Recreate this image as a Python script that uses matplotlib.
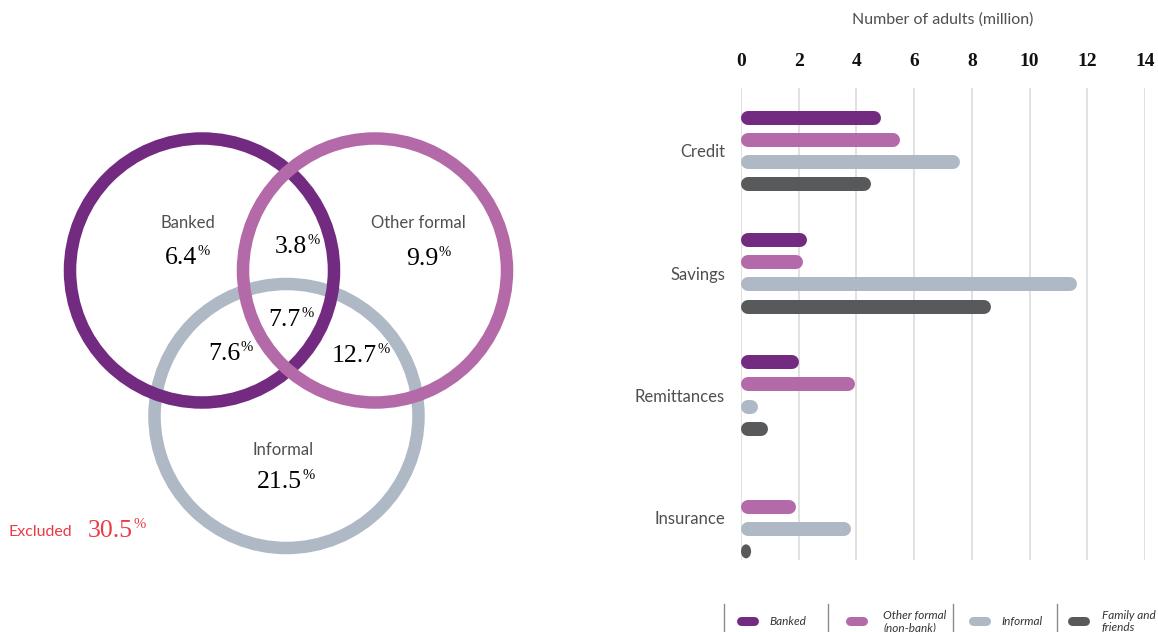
import matplotlib
matplotlib.use("Agg")
import matplotlib.pyplot as plt
from matplotlib.patches import Circle, Ellipse
from matplotlib.lines import Line2D
import numpy as np

# ---------------- data ----------------
categories = ["Credit", "Savings", "Remittances", "Insurance"]
series = ["Banked", "Other formal\n(non-bank)", "Informal", "Family and\nfriends"]
banked = [4.85, 2.3, 2.0, np.nan]
other_formal = [5.5, 2.15, 3.95, 1.9]
informal = [7.6, 11.65, 0.6, 3.8]
family = [4.5, 8.65, 0.95, 0.35]
x_ticks = [0, 2, 4, 6, 8, 10, 12, 14]
x_title = "Number of adults (million)"

venn_labels = ["Banked", "Other formal", "Informal"]
venn_only = ["6.4", "9.9", "21.5"]
venn_pairs = {"banked_other": "3.8", "banked_informal": "7.6", "other_informal": "12.7"}
venn_all = "7.7"
excluded_label = "Excluded"
excluded_value = "30.5"

colors = ["#732a81", "#b469a8", "#afb9c5", "#58595b"]
RED = "#ec3a45"
LABEL = "#4f4f4f"

W, H = 1158, 632
fig = plt.figure(figsize=(W / 100, H / 100), dpi=100)

SANS = ["Lato", "DejaVu Sans"]
SERIF = ["Liberation Serif", "DejaVu Serif"]

# ---------------- Venn (pixel coordinate axes) ----------------
ax0 = fig.add_axes([0, 0, 1, 1])
ax0.set_xlim(0, W)
ax0.set_ylim(H, 0)
ax0.axis("off")

R = 132
ring_lw = 12.5 * 0.72
ax0.add_patch(Circle((286.5, 416), R, fill=False, ec=colors[2], lw=ring_lw, zorder=1))
ax0.add_patch(Circle((202, 270.5), R, fill=False, ec=colors[0], lw=ring_lw, zorder=2))
ax0.add_patch(Circle((375, 270.5), R, fill=False, ec=colors[1], lw=ring_lw, zorder=3))


def pct(xr, yb, val, color="black", size=18.5):
    ax0.text(xr, yb, val, ha="right", va="baseline", fontsize=size,
             family=SERIF, color=color, zorder=5)
    ax0.text(xr + 0.5, yb - 9, "%", ha="left", va="baseline", fontsize=10.5,
             family=SERIF, color=color, zorder=5)


def lab(xc, yb, s, color=LABEL, size=12):
    ax0.text(xc, yb, s, ha="center", va="baseline", fontsize=size,
             family=SANS, color=color, zorder=5)


lab(187.5, 228, venn_labels[0])
lab(418.5, 228, venn_labels[1])
lab(283.5, 455, venn_labels[2])
pct(197, 264, venn_only[0])
pct(438, 265, venn_only[1])
pct(302, 488, venn_only[2])
pct(307, 253, venn_pairs["banked_other"])
pct(240, 360, venn_pairs["banked_informal"])
pct(377, 362, venn_pairs["other_informal"])
pct(301, 326, venn_all)

ax0.text(9, 536, excluded_label, ha="left", va="baseline", fontsize=11.5,
         family=SANS, color=RED)
pct(133, 537, excluded_value, color=RED)

# ---------------- bar chart ----------------
left_px, right_px, top_px, bot_px = 741, 1145, 88, 560
ax = fig.add_axes([left_px / W, 1 - bot_px / H, (right_px - left_px) / W,
                   (bot_px - top_px) / H])
px_per_x = (right_px - left_px) / 14.0
group_px = 122.3
ax.set_xlim(0, 14)
ax.set_ylim((bot_px - 151) / group_px, -(151 - top_px) / group_px)
px_per_y = group_px

bar_px = 14
r = (bar_px / 2) / px_per_x
offset = 22.3 / group_px
all_series = [banked, other_formal, informal, family]
for j, vals in enumerate(all_series):
    for i, v in enumerate(vals):
        if v is None or np.isnan(v):
            continue
        y = i + (j - 1.5) * offset
        if v > 2 * r:
            ax.add_line(Line2D([r, v - r], [y, y], lw=bar_px * 0.72,
                               color=colors[j], solid_capstyle="round", zorder=3))
        else:
            ax.add_patch(Ellipse((v / 2, y), v, bar_px / px_per_y,
                                 color=colors[j], zorder=3, lw=0))

for t in x_ticks:
    ax.axvline(t, color="#d8d8d8", lw=1.1, zorder=1)

ax.xaxis.tick_top()
ax.set_xticks(x_ticks)
ax.set_xticklabels([str(t) for t in x_ticks], family=SERIF, fontsize=14,
                   fontweight="bold", color="#111111")
ax.set_yticks(range(len(categories)))
ax.set_yticklabels(categories, family=SANS, fontsize=12, color=LABEL)
ax.tick_params(axis="x", length=0, pad=13)
ax.tick_params(axis="y", length=0, pad=11.5)
for s in ax.spines.values():
    s.set_visible(False)
ax.patch.set_alpha(0)

fig.text(943 / W, 1 - 24 / H, x_title, ha="center", va="baseline",
         fontsize=11.5, family=SANS, color=LABEL)

# ---------------- legend ----------------
sep_x = [724, 828, 953, 1057]
pill_x = [(737, 758), (846, 867), (969, 990), (1068, 1089)]
text_x = [769, 883, 1001, 1102]
for k in range(4):
    ax0.plot([sep_x[k], sep_x[k]], [604, 632], color="#8c8c8c", lw=1.0,
             clip_on=False)
    ax0.add_line(Line2D([pill_x[k][0] + 4, pill_x[k][1] - 4], [621, 621],
                        lw=9 * 0.72, color=colors[k], solid_capstyle="round"))
    ax0.text(text_x[k], 621.5, series[k], ha="left", va="center",
             fontsize=8.5, style="italic", family=SANS, color="#333333",
             linespacing=1.1)

fig.savefig("out.png", dpi=100)
